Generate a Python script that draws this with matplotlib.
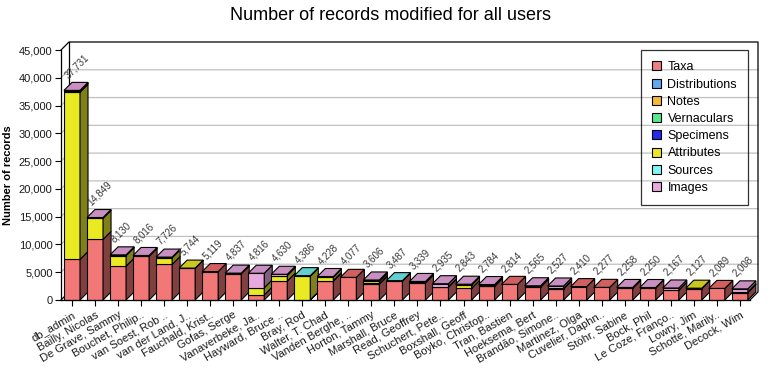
import matplotlib
matplotlib.use("Agg")
import matplotlib.pyplot as plt
from matplotlib.patches import Polygon, Patch
import numpy as np

plt.rcParams['font.family'] = ['Liberation Sans', 'DejaVu Sans']

# data
users = ["db_admin", "Bailly, Nicolas", "De Grave, Sammy", "Bouchet, Philip..",
         "van Soest, Rob ..", "van der Land, J..", "Fauchald, Krist..", "Gofas, Serge",
         "Vanaverbeke, Ja..", "Hayward, Bruce ..", "Bray, Rod", "Walter, T. Chad",
         "Vanden Berghe, ..", "Horton, Tammy", "Marshall, Bruce", "Read, Geoffrey",
         "Schuchert, Pete..", "Boxshall, Geoff", "Boyko, Christop..", "Tran, Bastien",
         "Hoeksema, Bert", "Brandão, Simone..", "Martinez, Olga", "Cuvelier, Daphn..",
         "Stöhr, Sabine", "Bock, Phil", "Le Coze, Franço..", "Lowry, Jim",
         "Schotte, Marily..", "Decock, Wim"]

taxa = [7300, 10900, 6100, 7850, 6400, 5690, 5119, 4700, 900, 3400,
        40, 3400, 4077, 2850, 3400, 3100, 2300, 2100, 2450, 2814,
        2300, 2000, 2410, 2277, 2100, 2150, 1750, 2050, 2089, 1350]
distributions = [0] * 30
notes = [0] * 30
vernaculars = [0] * 30
specimens = [0, 0, 0, 0, 0, 0, 0, 0, 0, 0,
             0, 100, 0, 150, 0, 100, 100, 0, 150, 0,
             0, 100, 0, 0, 0, 0, 0, 0, 0, 100]
attributes = [30100, 3800, 1880, 0, 1200, 54, 0, 0, 1300, 1000,
              4260, 600, 0, 400, 0, 0, 0, 550, 0, 0,
              0, 0, 0, 0, 0, 0, 0, 77, 0, 0]
sources = [220, 0, 0, 0, 0, 0, 0, 0, 0, 0,
           86, 0, 0, 0, 87, 0, 0, 0, 0, 0,
           0, 0, 0, 0, 0, 0, 0, 0, 0, 0]
images = [111, 149, 150, 166, 126, 0, 0, 137, 2616, 230,
          0, 128, 0, 206, 0, 139, 535, 193, 184, 0,
          265, 427, 0, 0, 158, 100, 417, 0, 0, 558]

series_names = ["Taxa", "Distributions", "Notes", "Vernaculars", "Specimens",
                "Attributes", "Sources", "Images"]
series = [taxa, distributions, notes, vernaculars, specimens, attributes, sources, images]
# front, side, top
colors = [("#F27777", "#804040", "#D06060"),
          ("#60A0F0", "#305080", "#5088D0"),
          ("#F8B020", "#805810", "#D09818"),
          ("#50E080", "#287040", "#40C070"),
          ("#2020F0", "#101080", "#1818D0"),
          ("#EAEA22", "#80801A", "#C8C820"),
          ("#70E0E0", "#307878", "#60D0D0"),
          ("#E8A8E0", "#806078", "#C890C0")]
legend_colors = ["#F08080", "#60A8F0", "#F8B830", "#58E890", "#2828F0",
                 "#E8E828", "#80F8F8", "#E8A8E0"]

fig = plt.figure(figsize=(7.8, 3.8), dpi=100)
ax = fig.add_axes([61 / 780, 80 / 380, 689 / 780, 250 / 380])

n = len(users)
x = np.arange(n)
xmin = -11 / 23.03
xmax = xmin + 689 / 23.03
ax.set_xlim(xmin, xmax)
ax.set_ylim(0, 45000)
DX = 8 / 23.03
DY = 8 * 45000 / 250
w = 0.695

# back wall, left wall, grid
yt = np.arange(0, 45001, 5000)
for v in yt[1:-1]:
    ax.plot([xmin, xmin + DX, xmax + DX], [v, v + DY, v + DY], color="#C0C0C0",
            lw=0.9, clip_on=False, zorder=0.5)
ax.plot([xmin, xmin + DX, xmax + DX, xmax + DX, xmax],
        [45000, 45000 + DY, 45000 + DY, DY, 0], color="black", lw=0.9,
        clip_on=False, zorder=0.6)
ax.plot([xmin + DX, xmin + DX], [DY, 45000 + DY], color="black", lw=0.9,
        clip_on=False, zorder=0.6)
ax.plot([xmin, xmin + DX], [0, DY], color="black", lw=0.9, clip_on=False, zorder=0.6)

# 3d stacked bars
for i in range(n):
    base = 0
    top_c = None
    for k, s in enumerate(series):
        v = s[i]
        if v <= 0:
            continue
        f, sd, tp = colors[k]
        x0, x1 = x[i] - w / 2, x[i] + w / 2
        ax.add_patch(Polygon([(x0, base), (x1, base), (x1, base + v), (x0, base + v)],
                             closed=True, fc=f, ec="black", lw=0.8, zorder=2, clip_on=False))
        ax.add_patch(Polygon([(x1, base), (x1 + DX, base + DY), (x1 + DX, base + v + DY),
                              (x1, base + v)], closed=True, fc=sd, ec="black", lw=0.8,
                             zorder=2, clip_on=False))
        base += v
        top_c = tp
    x0, x1 = x[i] - w / 2, x[i] + w / 2
    ax.add_patch(Polygon([(x0, base), (x1, base), (x1 + DX, base + DY), (x0 + DX, base + DY)],
                         closed=True, fc=top_c, ec="black", lw=0.8, zorder=2, clip_on=False))
    ax.text(x[i] - 0.1, base + DY + 450, f"{base:,}", rotation=45, rotation_mode="anchor",
            ha="left", va="bottom", fontsize=7, color="#383838", zorder=3)

for sp in ["top", "right"]:
    ax.spines[sp].set_visible(False)
ax.spines["left"].set_linewidth(0.9)
ax.spines["bottom"].set_linewidth(0.9)
ax.set_facecolor("none")

ax.set_yticks(yt)
ax.set_yticklabels([f"{v:,}" for v in yt], fontsize=8, color="#1a1a1a")
ax.set_xticks(x)
ax.set_xticklabels(users, rotation=30, ha="right", rotation_mode="anchor",
                   fontsize=8, color="#1a1a1a")
ax.tick_params(axis="both", direction="out", length=4, width=0.8, pad=2)
ax.tick_params(axis="x", pad=3)
ax.set_ylabel("Number of records", fontsize=8, fontweight="bold", labelpad=4)

fig.text(0.5, 1 - 15 / 380, "Number of records modified for all users",
         ha="center", va="center", fontsize=13)

handles = [Patch(fc=c, ec="black", lw=0.8) for c in legend_colors]
leg = fig.legend(handles, series_names, loc="upper left",
                 bbox_to_anchor=(641 / 780, 1 - 50 / 380), borderaxespad=0,
                 fontsize=9, frameon=True, fancybox=False, facecolor="none",
                 edgecolor="black", handlelength=0.72, handleheight=0.72,
                 handletextpad=0.5, labelspacing=0.42, borderpad=0.9)
leg.get_frame().set_linewidth(0.9)

fig.savefig("out.png", dpi=100)
